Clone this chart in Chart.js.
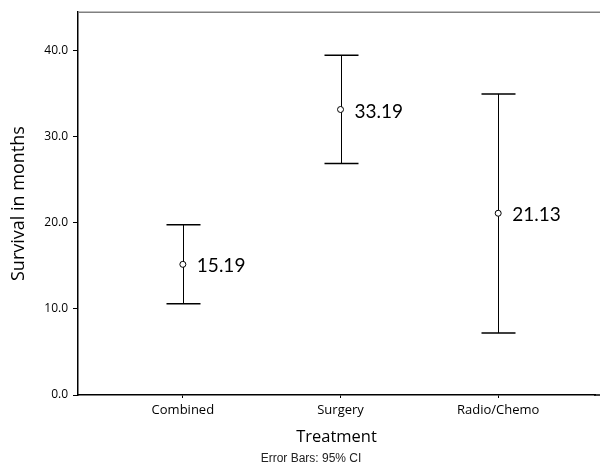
<!DOCTYPE html>
<html>
<head>
<meta charset="utf-8">
<script src="https://cdn.jsdelivr.net/npm/chart.js@4/dist/chart.umd.min.js"></script>
<style>
  html, body { margin: 0; padding: 0; background: #fff; }
  #wrap { width: 600px; height: 466px; }
</style>
</head>
<body>
<div id="wrap"><canvas id="chart"></canvas></div>
<script>
// data
var categories = ['Combined', 'Surgery', 'Radio/Chemo'];
var means = [15.19, 33.19, 21.13];
var lower = [10.6, 26.9, 7.2];
var upper = [19.8, 39.5, 35.0];
var yTicks = [0, 10, 20, 30, 40];

// error bars, mean labels, frame lines and footnote
var errorBars = {
    id: 'errorBars',
    beforeDatasetsDraw: function (chart) {
        var ctx = chart.ctx, xs = chart.scales.x, ys = chart.scales.y;
        ctx.save();
        ctx.strokeStyle = '#000';
        for (var i = 0; i < categories.length; i++) {
            var x = Math.round(xs.getPixelForValue(i + 1)) + 0.5;
            var top = ys.getPixelForValue(upper[i]);
            var bot = ys.getPixelForValue(lower[i]);
            ctx.lineWidth = 1;
            ctx.beginPath();
            ctx.moveTo(x, top);
            ctx.lineTo(x, bot);
            ctx.stroke();
            ctx.lineWidth = 1.5;
            ctx.beginPath();
            ctx.moveTo(x - 17, top);
            ctx.lineTo(x + 17, top);
            ctx.moveTo(x - 17, bot);
            ctx.lineTo(x + 17, bot);
            ctx.stroke();
        }
        ctx.restore();
    },
    afterDatasetsDraw: function (chart) {
        var ctx = chart.ctx, xs = chart.scales.x, ys = chart.scales.y, area = chart.chartArea;
        ctx.save();
        ctx.fillStyle = '#000';
        ctx.font = '19px Lato';
        ctx.textBaseline = 'middle';
        ctx.textAlign = 'left';
        for (var i = 0; i < categories.length; i++) {
            ctx.fillText(means[i].toFixed(2), xs.getPixelForValue(i + 1) + 14, ys.getPixelForValue(means[i]) + 2);
        }
        ctx.strokeStyle = '#808080';
        ctx.lineWidth = 1.5;
        ctx.beginPath();
        ctx.moveTo(area.left, area.top);
        ctx.lineTo(chart.width, area.top);
        ctx.stroke();
        // x axis line runs on to the right edge
        ctx.strokeStyle = '#000';
        ctx.beginPath();
        ctx.moveTo(area.right - 1, area.bottom);
        ctx.lineTo(chart.width, area.bottom);
        ctx.stroke();
        ctx.font = '12px "Liberation Sans"';
        ctx.textAlign = 'center';
        ctx.fillStyle = '#222';
        ctx.fillText('Error Bars: 95% CI', 311, 459);
        ctx.restore();
    }
};

new Chart(document.getElementById('chart'), {
    type: 'scatter',
    data: {
        datasets: [{
            data: categories.map(function (c, i) { return { x: i + 1, y: means[i] }; }),
            pointStyle: 'circle',
            pointRadius: 3,
            pointBorderWidth: 1,
            pointBorderColor: '#000',
            pointBackgroundColor: '#fff'
        }]
    },
    options: {
        responsive: true,
        maintainAspectRatio: false,
        animation: false,
        layout: { padding: { top: 12, right: 0, bottom: 15, left: 0 } },
        plugins: {
            legend: { display: false },
            tooltip: { enabled: false }
        },
        scales: {
            x: {
                type: 'linear',
                min: 0.335,
                max: 3.614,
                afterBuildTicks: function (s) {
                    s.ticks = categories.map(function (c, i) { return { value: i + 1 }; });
                },
                afterFit: function (s) { s.height = 56; },
                ticks: {
                    callback: function (v) { return categories[Math.round(v) - 1]; },
                    font: { family: 'Open Sans', size: 13 },
                    color: '#000',
                    padding: 4,
                    maxRotation: 0,
                    autoSkip: false
                },
                grid: { drawOnChartArea: false, color: '#000', tickLength: 3 },
                border: { color: '#000', width: 1.5 },
                title: {
                    display: true,
                    text: 'Treatment',
                    font: { family: 'Open Sans', size: 16.5 },
                    color: '#000',
                    padding: { top: 8, bottom: 4 }
                }
            },
            y: {
                min: 0,
                max: 44.5,
                afterBuildTicks: function (s) {
                    s.ticks = yTicks.map(function (v) { return { value: v }; });
                },
                afterFit: function (s) { s.width = 78; },
                ticks: {
                    callback: function (v) { return v.toFixed(1); },
                    font: { family: 'Open Sans', size: 12 },
                    color: '#000',
                    padding: 5
                },
                grid: { drawOnChartArea: false, color: '#000', tickLength: 5 },
                border: { color: '#000', width: 1.5 },
                title: {
                    display: true,
                    text: 'Survival in months',
                    font: { family: 'Open Sans', size: 18 },
                    color: '#000',
                    padding: { top: 8, bottom: 0 }
                }
            }
        }
    },
    plugins: [errorBars]
});
</script>
</body>
</html>
